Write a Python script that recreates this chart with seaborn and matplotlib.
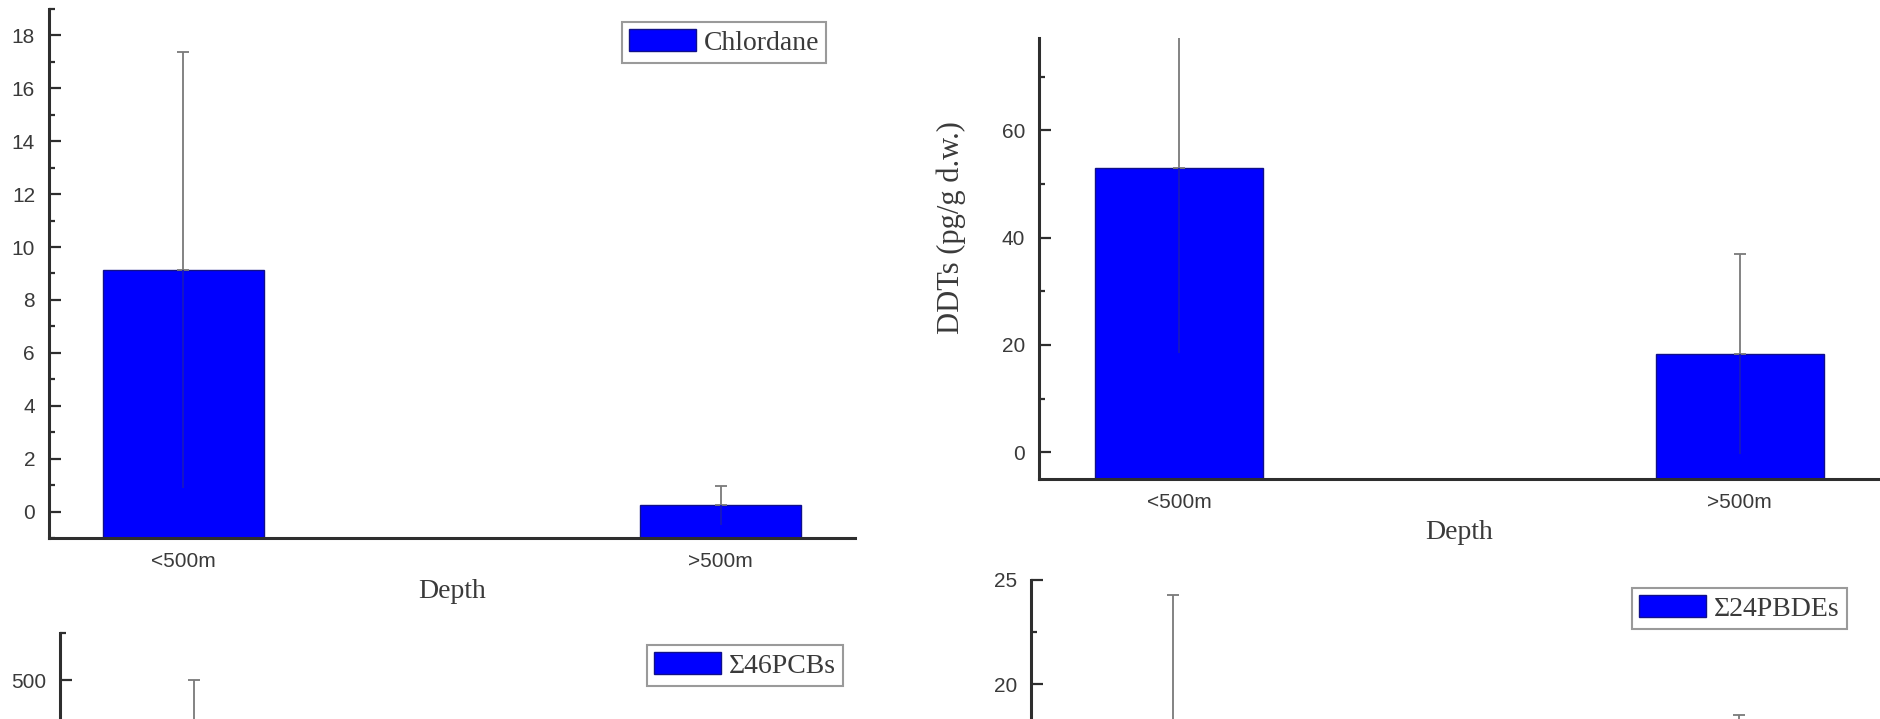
import numpy as np
import pandas as pd
import seaborn as sns
import matplotlib.pyplot as plt
from matplotlib.ticker import MultipleLocator

# values (mean and standard deviation per depth class)
depth = ["<500m", ">500m"]

chlordane_mean = [9.13, 0.23]
chlordane_sd = [8.23, 0.72]

ddt_mean = [52.9, 18.3]
ddt_sd = [34.5, 18.7]

pcb_mean = [235.0, 60.0]
pcb_sd = [265.0, 75.0]

pbde_mean = [10.8, 7.2]
pbde_sd = [13.5, 11.3]

sns.set_style("white")
plt.rcParams['font.family'] = ['Liberation Sans', 'DejaVu Sans']

axis_col = '#2e2e2e'
text_col = '#3a3a3a'
bar_blue = '#0000ff'
serif = {'family': ['Liberation Serif', 'DejaVu Serif'], 'size': 20}

W, H = 1880, 719
fig = plt.figure(figsize=(W / 100, H / 100), dpi=100)


def px_rect(x0, y0, x1, y1):
    # pixel box (top-left origin) -> figure fraction rect
    return [x0 / W, 1 - y1 / H, (x1 - x0) / W, (y1 - y0) / H]


def panel(rect, mean, sd, name, ylim, major, minor, legend_at=None):
    ax = fig.add_axes(rect)
    df = pd.DataFrame({'Depth': depth, 'value': mean})
    sns.barplot(data=df, x='Depth', y='value', ax=ax, width=0.3,
                color=bar_blue, saturation=1, edgecolor='#10108a',
                linewidth=1, errorbar=None, label=name)
    # bars start from the bottom axis line as in the original software
    for p in ax.patches:
        h = p.get_height()
        p.set_y(ylim[0])
        p.set_height(h - ylim[0])
    xs = np.arange(len(depth))
    zeros = np.zeros(len(depth))
    # upper half of the error bar in grey with a cap
    ax.errorbar(xs, mean, yerr=[zeros, sd], fmt='none', ecolor='#7a7a7a',
                elinewidth=1.3, capsize=4.5, capthick=1.3, zorder=3)
    # lower half shows faintly through the bar
    ax.errorbar(xs, mean, yerr=[sd, zeros], fmt='none', ecolor='#1818c0',
                elinewidth=1.3, capsize=0, zorder=3)
    ax.set_xlim(-0.25, 1.25)
    ax.set_ylim(*ylim)
    ax.yaxis.set_major_locator(MultipleLocator(major))
    ax.yaxis.set_minor_locator(MultipleLocator(minor))
    for s in ['top', 'right']:
        ax.spines[s].set_visible(False)
    for s in ['left', 'bottom']:
        ax.spines[s].set_color(axis_col)
        ax.spines[s].set_linewidth(2.2)
    ax.tick_params(axis='y', which='major', direction='in', length=8.5,
                   width=1.6, color=axis_col, labelsize=15,
                   labelcolor=text_col, pad=10, left=True)
    ax.tick_params(axis='y', which='minor', direction='in', length=4.5,
                   width=1.6, color=axis_col, left=True)
    ax.tick_params(axis='x', length=0, labelsize=15, labelcolor=text_col,
                   pad=10)
    ax.set_ylabel('')
    ax.set_xlabel('')
    if legend_at is not None:
        leg = ax.legend(loc='upper left', bbox_to_anchor=legend_at,
                        bbox_transform=fig.transFigure, borderaxespad=0,
                        fancybox=False, prop=serif, handlelength=2.4,
                        handleheight=0.85, handletextpad=0.3,
                        borderpad=0.25, framealpha=1)
        leg.get_frame().set_edgecolor('#9a9a9a')
        leg.get_frame().set_linewidth(1.5)
        for t in leg.get_texts():
            t.set_color(text_col)
    elif ax.get_legend() is not None:
        ax.get_legend().remove()
    return ax


def hide_offcanvas_labels(ax):
    # the lower panels run past the bottom edge of the cropped figure
    ax.tick_params(axis='x', labelbottom=False)
    for v, lab in zip(ax.get_yticks(), ax.get_yticklabels()):
        ypix = ax.transData.transform((0, v))[1]
        if ypix < 12:
            lab.set_visible(False)


ax1 = panel(px_rect(49, 9, 855, 538), chlordane_mean, chlordane_sd,
            'Chlordane', (-1, 19), 2, 1, legend_at=(622 / W, 1 - 22 / H))
ax1.set_xlabel('Depth', fontdict=serif, color=text_col)
ax1.xaxis.set_label_coords(0.5, -0.078)

ax2 = panel(px_rect(1039, 38, 1880, 479), ddt_mean, ddt_sd,
            'DDTs', (-5, 77.2), 20, 10)
ax2.set_xlabel('Depth', fontdict=serif, color=text_col)
ax2.xaxis.set_label_coords(0.5, -0.094)
ax2.set_ylabel('DDTs (pg/g d.w.)', fontdict={**serif, 'size': 22},
               color=text_col)
ax2.yaxis.set_label_coords(-0.087, 0.57)

ax3 = panel(px_rect(60, 633, 866, 1162), pcb_mean, pcb_sd,
            '\u03a346PCBs', (-10, 550), 100, 50,
            legend_at=(647 / W, 1 - 645 / H))
hide_offcanvas_labels(ax3)

ax4 = panel(px_rect(1031, 580, 1880, 1121), pbde_mean, pbde_sd,
            '\u03a324PBDEs', (-1, 25), 5, 2.5,
            legend_at=(1632 / W, 1 - 588 / H))
hide_offcanvas_labels(ax4)

fig.savefig('out.png', dpi=100)
